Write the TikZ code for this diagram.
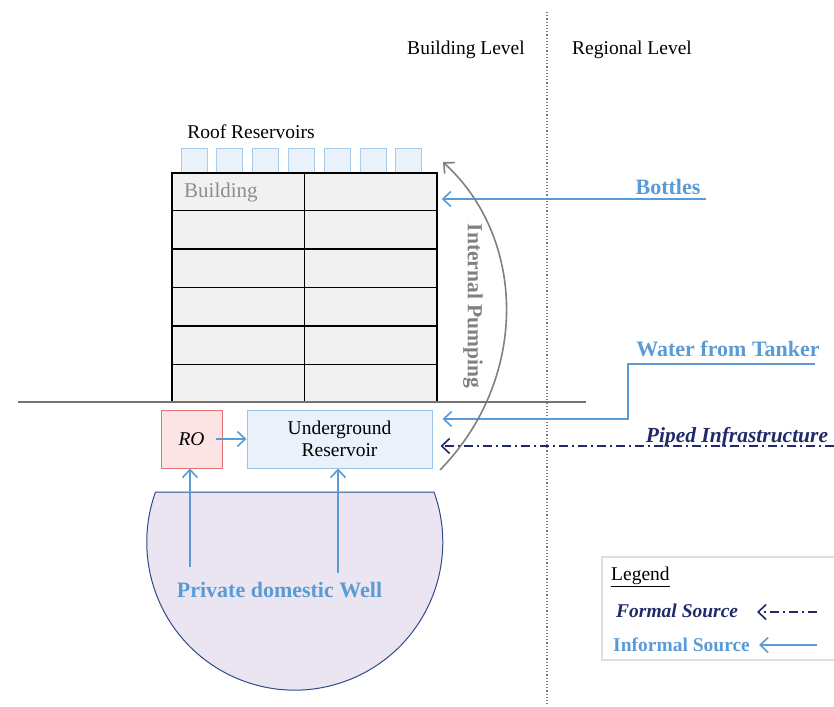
\documentclass[tikz,border=0pt]{standalone}
\usepackage{fontspec}
\setmainfont{Liberation Serif}
\usetikzlibrary{arrows.meta,calc}

\definecolor{infoblue}{HTML}{5B9BD5}
\definecolor{navy}{HTML}{1F2A6B}
\definecolor{pumpgray}{HTML}{808080}
\definecolor{bldgfill}{HTML}{F1F1F1}
\definecolor{tankfill}{HTML}{E9F1FA}
\definecolor{tankline}{HTML}{A9CBEA}
\definecolor{rofill}{HTML}{FCE4E4}
\definecolor{roline}{HTML}{E57373}
\definecolor{resfill}{HTML}{EAF1FB}
\definecolor{resline}{HTML}{9DC3E6}
\definecolor{wellfill}{HTML}{EBE5F2}
\definecolor{wellline}{HTML}{2E4A8B}

\begin{document}
\begin{tikzpicture}[x=1pt,y=-1pt]
    \tikzset{every node/.style={font=\fontsize{19.5}{22}\selectfont,inner sep=0pt}}
    \tikzset{src/.style={font=\fontsize{22}{24}\selectfont\bfseries,text=infoblue}}
    \tikzset{formal/.style={font=\fontsize{21.5}{24}\selectfont\bfseries\itshape,text=navy}}
    \tikzset{keytext/.style={font=\fontsize{19.5}{22}\selectfont\bfseries}}
    \tikzset{informal/.style={draw=infoblue,line width=1.6pt,-{Straight Barb[length=8pt,width=15pt]}}}
    \tikzset{formaledge/.style={draw=navy,line width=1.6pt,dash pattern=on 9pt off 4pt on 2pt off 4pt,-{Straight Barb[length=8pt,width=15pt]}}}
    \tikzset{tank/.style={draw=tankline,fill=tankfill,line width=1pt,minimum width=26pt,minimum height=24pt}}
    \tikzset{floor/.style={line width=1.5pt}}

    \useasboundingbox (0,0) rectangle (834,706);

    \node (bl) at (466,50) {Building Level};
    \node (rl) at (632,50) {Regional Level};
    \draw[dotted,line width=1.2pt,gray] (547,12) -- (547,706);

    \node (roof) at (251,132) {Roof Reservoirs};
    \foreach \i in {0,...,6}
        \node[tank] (t\i) at ({194+35.8*\i},160) {};

    \node[draw,floor,fill=bldgfill,minimum width=265pt,minimum height=229pt] (bldg) at (304.5,287.5) {};
    \foreach \i in {1,...,5}
        \draw[floor] ($(bldg.north west)!\i/6!(bldg.south west)$) -- ($(bldg.north east)!\i/6!(bldg.south east)$);
    \draw[floor] (bldg.north) -- (bldg.south);
    \node[anchor=west,text=gray!90,font=\fontsize{21}{22}\selectfont] (bname) at (184,192) {Building};

    \draw[line width=2.5pt,pumpgray!90!black] (18,402) -- (586,402);

    \node[draw=roline,fill=rofill,line width=1pt,minimum width=61pt,minimum height=58pt,font=\fontsize{19.5}{22}\selectfont\itshape] (ro) at (191.5,439) {RO};
    \node[draw=resline,fill=resfill,line width=1pt,minimum width=185pt,minimum height=58pt,align=center] (res) at (339.5,439) {Underground\\Reservoir};

    \draw[draw=wellline,fill=wellfill,line width=1pt] (434,492) arc[start angle=-19.8,end angle=199.8,radius=148] -- cycle;
    \node[src] (well) at (279.5,590) {Private domestic Well};
    \coordinate (w1) at (190,567);
    \coordinate (w2) at (338,573);

    \draw[informal] (w1) -- (w1 |- ro.south);
    \draw[informal] (w2) -- (w2 |- res.south);
    \draw[informal] ([xshift=-7pt]ro.east) -- (res.west);

    \node[src] (bottles) at (668,187) {Bottles};
    \coordinate (b0) at (706,199);
    \draw[informal,shorten >=4pt] (b0) -- (b0 -| bldg.east);

    \node[src] (tanker) at (728,349) {Water from Tanker};
    \coordinate (k0) at (815,364);
    \coordinate (k1) at (628,419);
    \draw[informal,shorten >=10pt] (k0) -- (k1 |- k0) -- (k1) -- (k1 -| res.east);

    \node[formal] (piped) at (737,437) {Piped Infrastructure};
    \coordinate (p0) at (834,446);
    \draw[formaledge,shorten >=8pt] (p0) -- (p0 -| res.east);

    \coordinate (u0) at (440,470);
    \coordinate (u1) at (443,162);
    \draw[pumpgray,line width=1.6pt,-{Straight Barb[length=8pt,width=15pt]}] (u0) .. controls (528,380) and (528,240) .. (u1);
    \node[rotate=-90,text=pumpgray,font=\fontsize{21.5}{22}\selectfont\bfseries] (pump) at (473,306) {Internal Pumping};

    \draw[gray!25,line width=1.5pt] (602,557) rectangle (850,660);
    \node[anchor=west] (leg) at (611,577) {\underline{Legend}};
    \node[keytext,text=navy,font=\fontsize{19.5}{22}\selectfont\bfseries\itshape,anchor=west] (lf) at (616,611) {Formal Source};
    \node[keytext,text=infoblue,anchor=west] (li) at (613,645) {Informal Source};
    \coordinate (lf0) at (817,612);
    \coordinate (lf1) at (757,612);
    \coordinate (li0) at (817,645);
    \coordinate (li1) at (759,645);
    \draw[formaledge] (lf0) -- (lf1);
    \draw[informal] (li0) -- (li1);
\end{tikzpicture}
\end{document}
